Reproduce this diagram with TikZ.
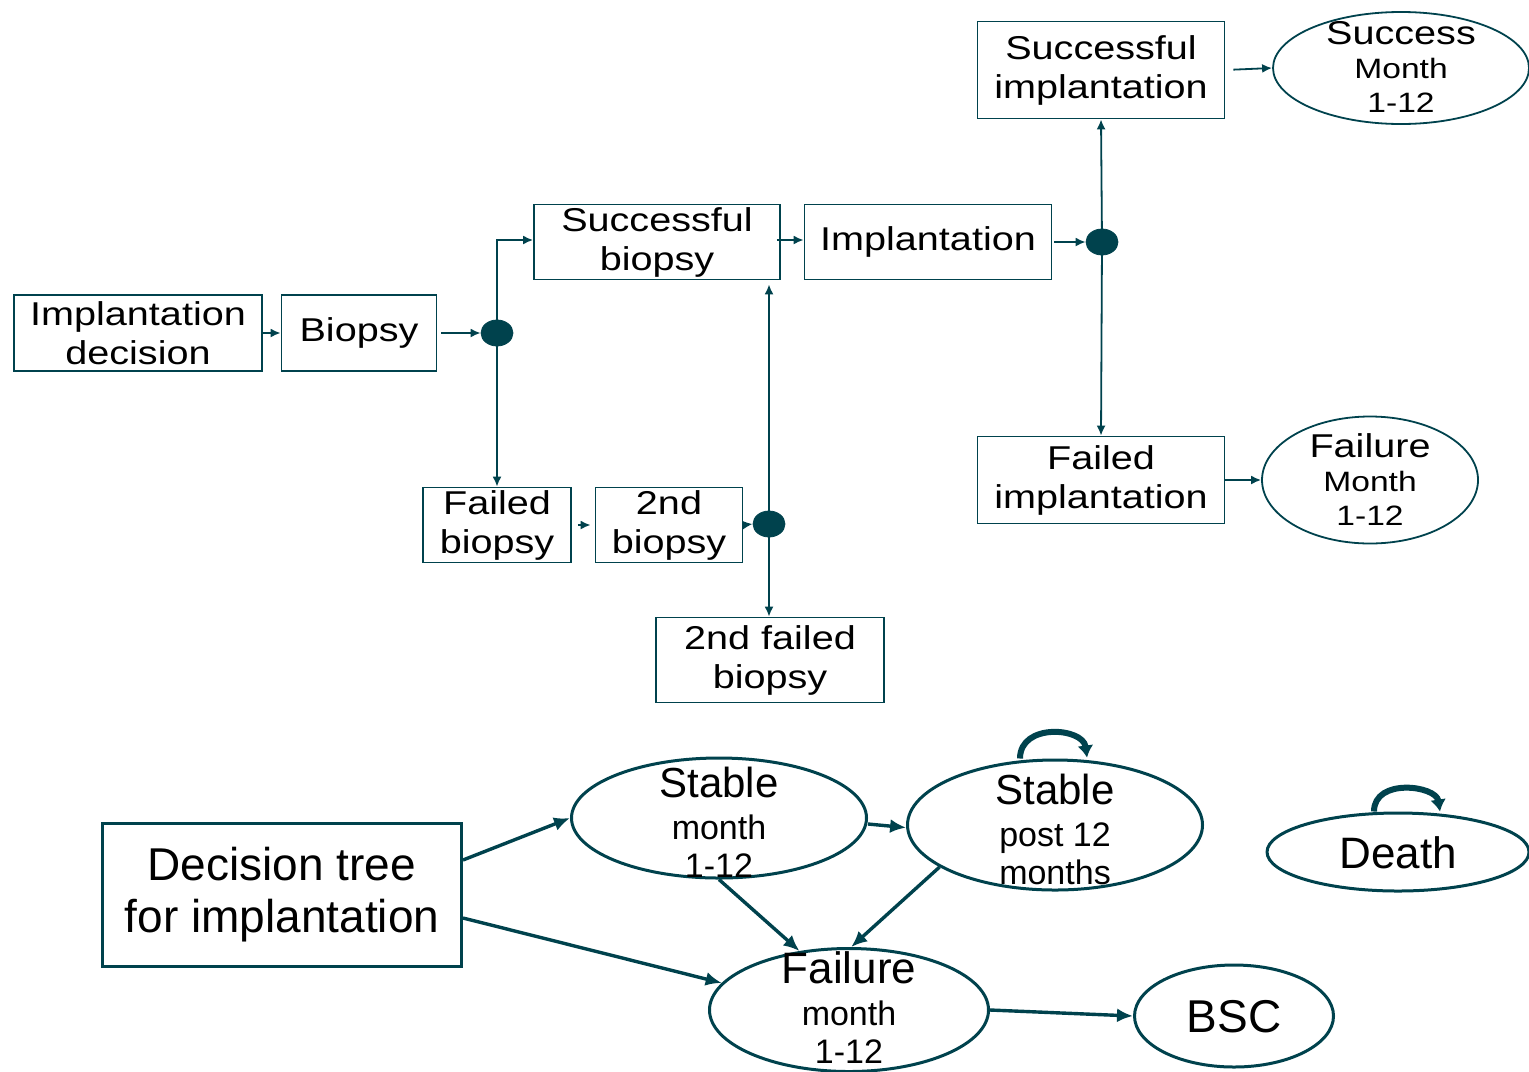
\documentclass[tikz,border=0pt]{standalone}
\usepackage{fontspec}
\setmainfont{Liberation Sans}
\newfontfamily\wf{Liberation Sans}[FakeStretch=1.2]
\usetikzlibrary{shapes.geometric,arrows.meta,calc}
\definecolor{tl}{RGB}{0,66,77}
\tikzset{
  tbox/.style={draw=tl,line width=0.9pt,rectangle,inner sep=0pt,align=center,
    font=\wf\fontsize{16.5}{19.5}\selectfont},
  tell/.style={draw=tl,line width=0.9pt,ellipse,inner sep=0pt},
  ttxt/.style={inner sep=0pt,align=center,font=\wf\fontsize{14}{17}\selectfont},
  dot/.style={fill=tl,draw=tl,ellipse,minimum width=16pt,minimum height=13pt,inner sep=0pt},
  arr/.style={draw=tl,line width=0.9pt,-{Latex[length=5pt,width=4.5pt]}},
  bell/.style={draw=tl,line width=1.5pt,ellipse,inner sep=0pt},
  btxt/.style={inner sep=0pt,align=center,font=\fontsize{17}{19}\selectfont},
  bbox/.style={draw=tl,line width=1.5pt,rectangle,inner sep=0pt,align=center,
    font=\fontsize{23}{26}\selectfont},
  barr/.style={draw=tl,line width=1.7pt,-{Latex[length=8pt,width=7pt]}},
  selfl/.style={draw=tl,line width=3pt,-{Latex[length=6pt,width=8pt]}},
}
\begin{document}
\begin{tikzpicture}[x=0.5pt,y=-0.5pt]
\useasboundingbox (0,0) rectangle (1529,1071);
% top tree
\node[tbox,minimum width=124pt,minimum height=38pt] (idec) at (138,333) {Implantation\\decision};
\node[tbox,minimum width=77.5pt,minimum height=38pt] (bio) at (359,333) {Biopsy};
\node[dot] (d1) at (497,333) {};
\node[tbox,minimum width=123pt,minimum height=37.5pt] (sbio) at (657,242) {Successful\\biopsy};
\node[tbox,minimum width=123.5pt,minimum height=37.5pt] (impl) at (928,242) {Implantation};
\node[dot] (d2) at (1102,242) {};
\node[tbox,minimum width=123.5pt,minimum height=48.5pt] (simp) at (1101,70) {Successful\\implantation};
\node[tell,minimum width=128pt,minimum height=56pt] (succ) at (1401,68) {};
\node[ttxt] (succt) at (1401,67) {{\fontsize{16.5}{17}\selectfont Success}\\Month\\1-12};
\node[tbox,minimum width=123.5pt,minimum height=43.5pt] (fimp) at (1101,480) {Failed\\implantation};
\node[tell,minimum width=108pt,minimum height=63.5pt] (fail) at (1370,480) {};
\node[ttxt] (failt) at (1370,480) {{\fontsize{16.5}{17}\selectfont Failure}\\Month\\1-12};
\node[tbox,minimum width=74pt,minimum height=37.5pt] (fbio) at (497,525) {Failed\\biopsy};
\node[tbox,minimum width=73.5pt,minimum height=37.5pt] (bio2) at (669,525) {2nd\\biopsy};
\node[dot] (d3) at (769,524) {};
\node[tbox,minimum width=114pt,minimum height=42.5pt] (b2f) at (770,660) {2nd failed\\biopsy};
\draw[arr] (idec.east) -- (bio.west);
\draw[arr,shorten <=2pt] (bio.east) -- (d1.west);
\draw[arr] (d1.center) |- ($(sbio.west)+(0,1pt)$);
\draw[arr] (d1.center) -- (fbio.north);
\draw[arr,shorten <=3pt,shorten >=2pt] (fbio.east) -- (bio2.west);
\draw[arr] (bio2.east) -- (d3.west);
\draw[arr,shorten >=2pt] (d3.center) -- (d3 |- sbio.south);
\draw[arr] (d3.center) -- (d3 |- b2f.north);
\draw[arr,shorten <=-2pt] ($(sbio.east)+(0,1pt)$) -- ($(impl.west)+(0,1pt)$);
\draw[arr,shorten <=1pt] (impl.east) -- (d2.west);
\draw[arr] (d2.center) -- (simp.south);
\draw[arr] (d2.center) -- (fimp.north);
\draw[arr,shorten <=4pt] (simp.east) -- (succ.west);
\draw[arr] (fimp.east) -- (fail.west);
% bottom chain
\node[bbox,minimum width=179.5pt,minimum height=71.5pt] (dtree) at (282,895) {Decision tree\\for implantation};
\node[bell,minimum width=147.5pt,minimum height=60pt] (st1) at (719,818) {};
\node[btxt] (st1t) at (719,822) {{\fontsize{21}{22}\selectfont Stable}\\[2pt]month\\1-12};
\node[bell,minimum width=147.5pt,minimum height=65pt] (st2) at (1055,825) {};
\node[btxt] (st2t) at (1055,829) {{\fontsize{21}{22}\selectfont Stable}\\[2pt]post 12\\months};
\node[bell,minimum width=131pt,minimum height=39pt] (death) at (1398,852) {};
\node[btxt,font=\fontsize{22}{24}\selectfont] (deatht) at (1398,853) {Death};
\node[bell,minimum width=139.5pt,minimum height=61.5pt] (fl) at (849,1010) {};
\node[btxt] (flt) at (849,1008) {{\fontsize{22}{23}\selectfont Failure}\\[2pt]month\\1-12};
\node[bell,minimum width=99.5pt,minimum height=51pt] (bsc) at (1234,1016) {};
\node[btxt,font=\fontsize{23}{24}\selectfont] (bsct) at (1234,1017) {BSC};
\draw[barr] ($(dtree.east)+(0,17.5pt)$) -- (st1.west);
\draw[barr] ($(dtree.east)+(0,-11.5pt)$) -- (fl.168);
\draw[barr] ($(st1.east)+(0,-3pt)$) -- (st2.181);
\draw[barr] (st1.south) -- (fl.130);
\draw[barr] (st2.200) -- (fl.88);
\draw[barr] (fl.east) -- (bsc.west);
\draw[selfl] ($(st2.north)+(-17.5pt,0pt)$) .. controls +(0,18pt) and +(-2pt,15pt) .. ($(st2.north)+(16pt,0.5pt)$);
\draw[selfl] ($(death.north)+(-12pt,0pt)$) .. controls +(0,17pt) and +(-2pt,13pt) .. ($(death.north)+(21pt,0pt)$);
\end{tikzpicture}
\end{document}
